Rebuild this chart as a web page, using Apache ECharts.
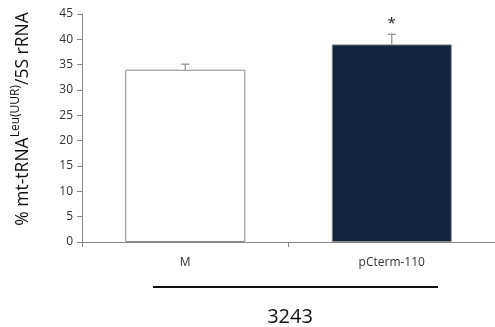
<!DOCTYPE html>
<html><head><meta charset="utf-8">
<script src="https://cdn.jsdelivr.net/npm/echarts@6/dist/echarts.min.js"></script>
<style>html,body{margin:0;padding:0;background:#fff}#c{width:495px;height:327px}</style>
</head><body><div id="c"></div>
<script>
const categories = ['M', 'pCterm-110'];
const values = [34, 39];
const errors = [1.1, 2.0];
const significance = ['', '*'];
const yTicks = [0, 5, 10, 15, 20, 25, 30, 35, 40, 45];
const groupLabel = '3243';
const yTitleParts = ['% mt-tRNA', 'Leu(UUR)', '/5S rRNA'];
const barColors = ['#ffffff', '#13243f'];

const chart = echarts.init(document.getElementById('c'));
const font = '"Open Sans", "Liberation Sans", sans-serif';
chart.setOption({
  animation: false,
  grid: {left: 82, top: 14, width: 416, height: 228, containLabel: false},
  xAxis: {
    type: 'category', data: categories,
    axisLine: {lineStyle: {color: '#888', width: 1}},
    axisTick: {show: true, alignWithLabel: false, length: 5, lineStyle: {color: '#888'}},
    axisLabel: {color: '#333', fontSize: 12, fontFamily: font, margin: 15}
  },
  yAxis: {
    type: 'value', min: yTicks[0], max: yTicks[yTicks.length - 1], interval: 5,
    splitLine: {show: false},
    axisLine: {show: true, lineStyle: {color: '#888', width: 1}},
    axisTick: {show: true, length: 5, lineStyle: {color: '#888'}},
    axisLabel: {color: '#333', fontSize: 12, fontFamily: font, margin: 9}
  },
  series: [
    {
      type: 'bar', barWidth: 120,
      data: values.map((v, i) => ({value: v, itemStyle: {color: barColors[i], borderColor: '#8a8a8a', borderWidth: 1}})),
      z: 2
    },
    {
      type: 'custom', z: 3,
      data: values.map((v, i) => [i, v, errors[i]]),
      renderItem: function (params, api) {
        const x = api.value(0);
        const base = api.coord([x, api.value(1)]);
        const top = api.coord([x, api.value(1) + api.value(2)]);
        const sig = significance[params.dataIndex];
        const children = [
          {type: 'line', shape: {x1: base[0], y1: base[1], x2: top[0], y2: top[1]}, style: {stroke: '#8a8a8a', lineWidth: 1.2}},
          {type: 'line', shape: {x1: top[0] - 4, y1: top[1], x2: top[0] + 4, y2: top[1]}, style: {stroke: '#8a8a8a', lineWidth: 1.2}}
        ];
        if (sig) {
          children.push({type: 'text', style: {text: sig, x: top[0], y: top[1] - 3, fontSize: 15, fontFamily: font, fill: '#222', align: 'center', verticalAlign: 'bottom'}});
        }
        return {type: 'group', children: children};
      }
    }
  ],
  graphic: [
    {type: 'line', shape: {x1: 153, y1: 287, x2: 438, y2: 287}, style: {stroke: '#111', lineWidth: 2}},
    {type: 'text', style: {text: groupLabel, x: 290, y: 317, fontSize: 20, fontFamily: font, fill: '#111', align: 'center', verticalAlign: 'middle'}},
    {type: 'text', x: 21, y: 119, rotation: Math.PI / 2,
     style: {
       text: '{a|' + yTitleParts[0] + '}{s|' + yTitleParts[1] + '}{a|' + yTitleParts[2] + '}',
       align: 'center', verticalAlign: 'middle',
       rich: {
         a: {fontSize: 17.5, fontFamily: font, fill: '#111', verticalAlign: 'bottom', lineHeight: 22},
         s: {fontSize: 12, fontFamily: font, fill: '#111', verticalAlign: 'top', lineHeight: 22, padding: [0, 0, 8, 0]}
       }
     }}
  ]
});
</script></body></html>
